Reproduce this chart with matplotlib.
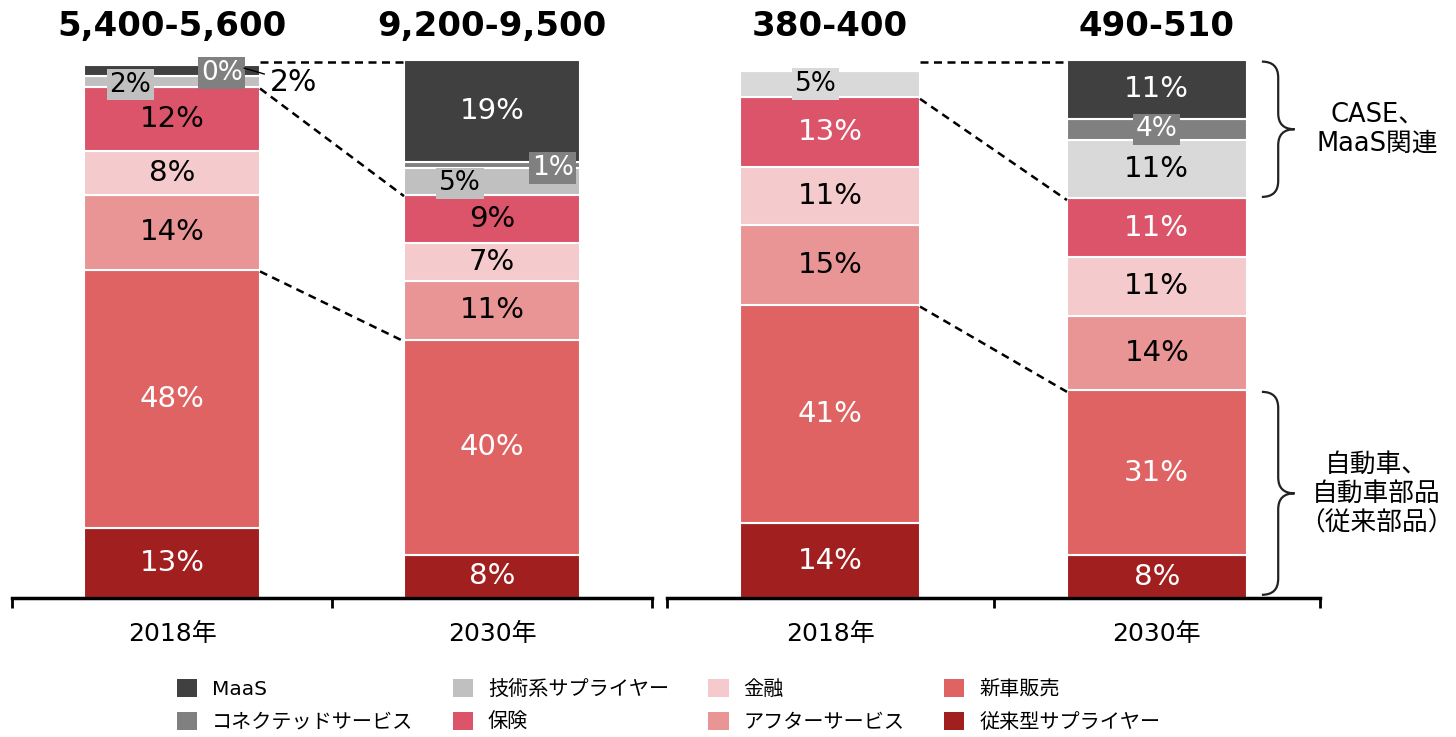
import numpy as np
import matplotlib
matplotlib.use("Agg")
import matplotlib.pyplot as plt
from matplotlib.patches import Patch, PathPatch
from matplotlib.path import Path

plt.rcParams['font.family'] = ['DejaVu Sans', 'Noto Sans CJK JP']

# stacking order, bottom to top
categories = ['従来型サプライヤー', '新車販売', 'アフターサービス', '金融', '保険',
              '技術系サプライヤー', 'コネクテッドサービス', 'MaaS']
colors = ['#A21F20', '#E06363', '#E99595', '#F4CACC', '#DC546A',
          '#C0C0C0', '#808080', '#404040']
years = ['2018年', '2030年']

left_2018 = [13, 48, 14, 8, 12, 2, 0, 2]
left_2030 = [8, 40, 11, 7, 9, 5, 1, 19]
right_2018 = [14, 41, 15, 11, 13, 5, 0, 0]
right_2030 = [8, 31, 14, 11, 11, 11, 4, 11]

left_totals = ['5,400-5,600', '9,200-9,500']
right_totals = ['380-400', '490-510']

# text colour of the labels inside each segment
txt_left = ['white', 'white', 'black', 'black', 'black', 'black', 'white', 'white']
txt_right = ['white', 'white', 'black', 'black', 'white', 'black', 'white', 'white']

W = 0.55

fig = plt.figure(figsize=(14.56, 7.37), dpi=100)
axl = fig.add_axes([12 / 1456, 139 / 737, 640 / 1456, 538 / 737])
axr = fig.add_axes([667 / 1456, 139 / 737, 653 / 1456, 538 / 737])


def draw_panel(ax, series, seg_colors, txt, totals, ymax, small):
    for i, vals in enumerate(series):
        bottom = 0
        for k, v in enumerate(vals):
            ax.bar(i, v, W, bottom=bottom, color=seg_colors[k],
                   edgecolor='white', linewidth=1.5)
            mid = bottom + v / 2
            key = (i, k)
            if key in small:
                dx, dy, boxed = small[key]
                if boxed:
                    ax.text(i + dx, mid + dy, f'{v}%', ha='center', va='center',
                            fontsize=19, color=txt[k],
                            bbox=dict(boxstyle='square,pad=0.1',
                                      fc=seg_colors[k], ec='none'))
                else:
                    ax.annotate(f'{v}%', xy=(i + W / 2 - 0.05, mid + 0.5),
                                xytext=(i + dx, mid + dy), ha='center',
                                va='center', fontsize=21.5, color='black',
                                arrowprops=dict(arrowstyle='-', color='black',
                                                lw=1, shrinkA=2, shrinkB=0))
            elif v > 0:
                ax.text(i, mid, f'{v}%', ha='center', va='center',
                        fontsize=21, color=txt[k])
            bottom += v
        ax.text(i, 1.062, totals[i], transform=ax.get_xaxis_transform(),
                ha='center', va='center', fontsize=24.5, fontweight='bold')

    # dashed guides between the two bars: 100% line, then the tops of
    # the insurance and new-car segments
    c0 = np.cumsum(series[0])
    c1 = np.cumsum(series[1])
    guides = [(ymax, ymax), (c0[4], c1[4]), (c0[1], c1[1])]
    for y0, y1 in guides:
        ax.plot([W / 2, 1 - W / 2], [y0 - 0.3, y1 - 0.3], color='black',
                lw=1.8, linestyle=(0, (3.2, 2.2)), clip_on=False)

    ax.set_xlim(-0.5, 1.5)
    ax.set_ylim(0, ymax)
    for s in ('left', 'right', 'top'):
        ax.spines[s].set_visible(False)
    ax.spines['bottom'].set_linewidth(2.5)
    ax.set_yticks([])
    ax.set_xticks([0, 1])
    ax.set_xticklabels(years, fontsize=18)
    ax.tick_params(axis='x', which='major', length=0, pad=17)
    ax.set_xticks([-0.5, 0.5, 1.5], minor=True)
    ax.tick_params(axis='x', which='minor', length=7, width=2, direction='out')


left_small = {
    (0, 5): (-0.13, -0.6, True),
    (0, 6): (0.156, 0.6, True),
    (0, 7): (0.38, -2.2, False),
    (1, 5): (-0.10, -0.4, True),
    (1, 6): (0.19, -0.6, True),
}
right_small = {
    (0, 5): (-0.045, 0.0, True),
    (1, 6): (0.0, 0.0, True),
}

draw_panel(axl, [left_2018, left_2030], colors, txt_left, left_totals, 100,
           left_small)
right_colors = colors[:5] + ['#D9D9D9'] + colors[6:]
draw_panel(axr, [right_2018, right_2030], right_colors, txt_right, right_totals,
           101, right_small)


def brace(ax, x0, y0, y1, w, r):
    xm = x0 + w * 0.5
    tip = x0 + w
    ym = (y0 + y1) / 2
    verts = [(x0, y1), (xm, y1), (xm, y1 - r), (xm, ym + r), (xm, ym),
             (tip, ym), (xm, ym), (xm, ym - r), (xm, y0 + r), (xm, y0),
             (x0, y0)]
    codes = [Path.MOVETO, Path.CURVE3, Path.CURVE3, Path.LINETO, Path.CURVE3,
             Path.CURVE3, Path.CURVE3, Path.CURVE3, Path.LINETO, Path.CURVE3,
             Path.CURVE3]
    ax.add_patch(PathPatch(Path(verts, codes), fc='none', ec='#222222',
                           lw=1.6, clip_on=False))


cum = np.cumsum(right_2030)
brace(axr, 1.322, cum[4] + 0.3, cum[7] - 0.3, 0.1, 3.0)
brace(axr, 1.322, 0.6, cum[1] - 0.3, 0.1, 3.0)
axr.text(1.675, (cum[4] + cum[7]) / 2, 'CASE、\nMaaS関連', ha='center',
         va='center', fontsize=18.5, linespacing=1.15, clip_on=False)
axr.text(1.672, cum[1] / 2, '自動車、\n自動車部品\n（従来部品）', ha='center',
         va='center', fontsize=18.5, linespacing=1.15, clip_on=False)

# legend, filled column by column
order = [7, 6, 5, 4, 3, 2, 1, 0]
handles = [Patch(facecolor=colors[k], edgecolor='none') for k in order]
labels = [categories[k] for k in order]
fig.legend(handles, labels, ncol=4, loc='upper left',
           bbox_to_anchor=(177 / 1456, 1 - 679 / 737), frameon=False,
           fontsize=14.5, handlelength=1.0, handleheight=1.0,
           handletextpad=0.75, columnspacing=1.95, labelspacing=0.65,
           borderpad=0, borderaxespad=0)

fig.savefig('out.png', dpi=100)
